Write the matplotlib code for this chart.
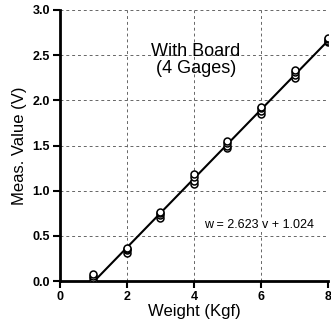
import matplotlib
matplotlib.use("Agg")
import matplotlib.pyplot as plt
import numpy as np

plt.rcParams['font.family'] = ['Liberation Sans', 'DejaVu Sans']

weights = [1, 2, 3, 4, 5, 6, 7, 8]
gage1 = [0.00, 0.31, 0.70, 1.07, 1.47, 1.85, 2.25, 2.64]
gage2 = [0.03, 0.34, 0.73, 1.11, 1.50, 1.88, 2.28, 2.66]
gage3 = [0.06, 0.36, 0.75, 1.15, 1.53, 1.91, 2.31, 2.68]
gage4 = [0.08, 0.37, 0.76, 1.18, 1.55, 1.93, 2.33, 2.69]
fit_slope = 2.623
fit_intercept = 1.024
fit_w = [1, 8]

xticks = [0, 2, 4, 6, 8]
yticks = [0.0, 0.5, 1.0, 1.5, 2.0, 2.5, 3.0]

fig = plt.figure(figsize=(3.31, 3.30), dpi=100)
ax = fig.add_axes([0.181, 0.148, 0.810, 0.822])

for g in (gage1, gage2, gage3, gage4):
    ax.plot(weights, g, linestyle='none', marker='o', markersize=5,
            markerfacecolor='white', markeredgecolor='black', markeredgewidth=1.1, zorder=3)

fw = np.array(fit_w, dtype=float)
ax.plot(fw, (fw - fit_intercept) / fit_slope, color='black', linewidth=1.5, zorder=2)

ax.set_xlim(0, 8)
ax.set_ylim(0, 3.0)
ax.set_xticks(xticks)
ax.set_yticks(yticks)
ax.set_xticklabels([str(t) for t in xticks], fontweight='bold', fontsize=9)
ax.set_yticklabels([f"{t:.1f}" for t in yticks], fontweight='bold', fontsize=9)

ax.grid(True, color='#666666', linestyle=(0, (3, 3)), linewidth=0.7)
ax.set_axisbelow(True)

ax.spines['top'].set_visible(False)
ax.spines['right'].set_visible(False)
ax.spines['left'].set_linewidth(2)
ax.spines['bottom'].set_linewidth(2)
ax.tick_params(direction='out', length=5, width=1.5, pad=2)

ax.set_xlabel('Weight (Kgf)', fontsize=12, labelpad=1)
ax.set_ylabel('Meas. Value (V)', fontsize=12, labelpad=4)

ax.text(4.06, 2.45, 'With Board\n(4 Gages)', ha='center', va='center', fontsize=13,
        linespacing=1.0)
ax.text(5.94, 0.62, 'w = 2.623 v + 1.024', ha='center', va='center', fontsize=9,
        bbox=dict(facecolor='white', edgecolor='none', pad=1))

fig.savefig('out.png', dpi=100)
